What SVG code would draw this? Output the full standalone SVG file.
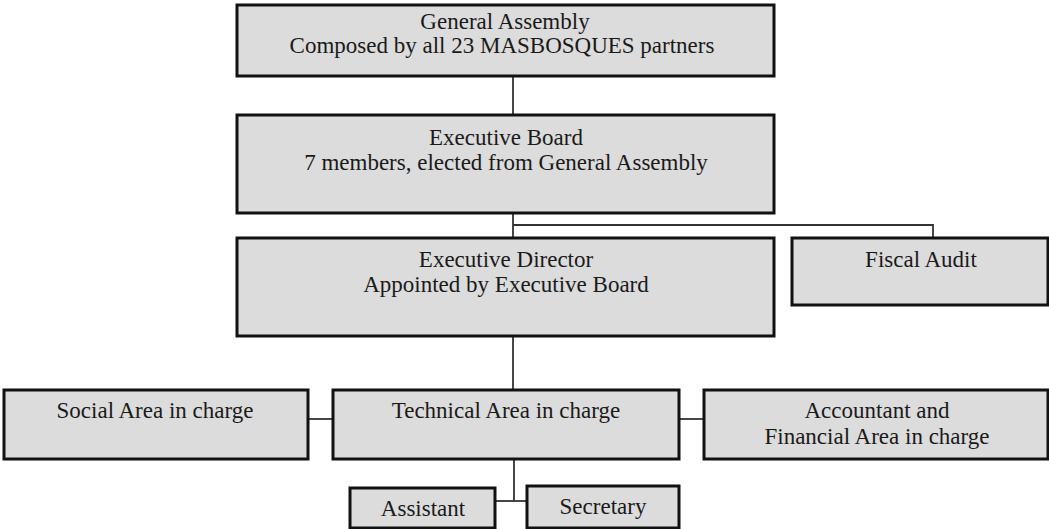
<svg xmlns="http://www.w3.org/2000/svg" width="1049" height="529" viewBox="0 0 1049 529">
<style>
.box{fill:#dcdcdc;stroke:#111;stroke-width:3}
.t{font-family:"Liberation Serif","Times New Roman",serif;font-size:23px;fill:#1a1a1a;text-anchor:middle}
.c{fill:none;stroke:#333;stroke-width:1.8}
</style>
<rect width="1049" height="529" fill="#fff"/>
<g id="connectors">
<line class="c" x1="513" y1="76" x2="513" y2="115"/>
<line class="c" x1="513" y1="213" x2="513" y2="238"/>
<polyline class="c" points="513,225 933,225 933,238"/>
<line class="c" x1="513" y1="336" x2="513" y2="390"/>
<line class="c" x1="308" y1="419" x2="333" y2="419"/>
<line class="c" x1="679" y1="419" x2="704" y2="419"/>
<line class="c" x1="514" y1="459" x2="514" y2="501"/>
<line class="c" x1="495" y1="501" x2="527" y2="501"/>
</g>
<g id="general-assembly">
<rect class="box" x="237" y="5" width="537" height="71"/>
<text class="t" x="505" y="29">General Assembly</text>
<text class="t" x="502" y="53">Composed by all 23 MASBOSQUES partners</text>
</g>
<g id="executive-board">
<rect class="box" x="237" y="115" width="537" height="98"/>
<text class="t" x="506" y="145">Executive Board</text>
<text class="t" x="506" y="170">7 members, elected from General Assembly</text>
</g>
<g id="executive-director">
<rect class="box" x="237" y="238" width="537" height="98"/>
<text class="t" x="506" y="267">Executive Director</text>
<text class="t" x="506" y="292">Appointed by Executive Board</text>
</g>
<g id="fiscal-audit">
<rect class="box" x="792" y="238" width="256" height="67"/>
<text class="t" x="921" y="267">Fiscal Audit</text>
</g>
<g id="social-area">
<rect class="box" x="4" y="390" width="304" height="69"/>
<text class="t" x="155" y="418">Social Area in charge</text>
</g>
<g id="technical-area">
<rect class="box" x="333" y="390" width="346" height="69"/>
<text class="t" x="506" y="418">Technical Area in charge</text>
</g>
<g id="accountant-area">
<rect class="box" x="704" y="390" width="344" height="69"/>
<text class="t" x="877" y="418">Accountant and</text>
<text class="t" x="877" y="444">Financial Area in charge</text>
</g>
<g id="assistant">
<rect class="box" x="350" y="488" width="145" height="40"/>
<text class="t" x="423" y="516">Assistant</text>
</g>
<g id="secretary">
<rect class="box" x="527" y="486" width="152" height="42"/>
<text class="t" x="603" y="514">Secretary</text>
</g>
</svg>
